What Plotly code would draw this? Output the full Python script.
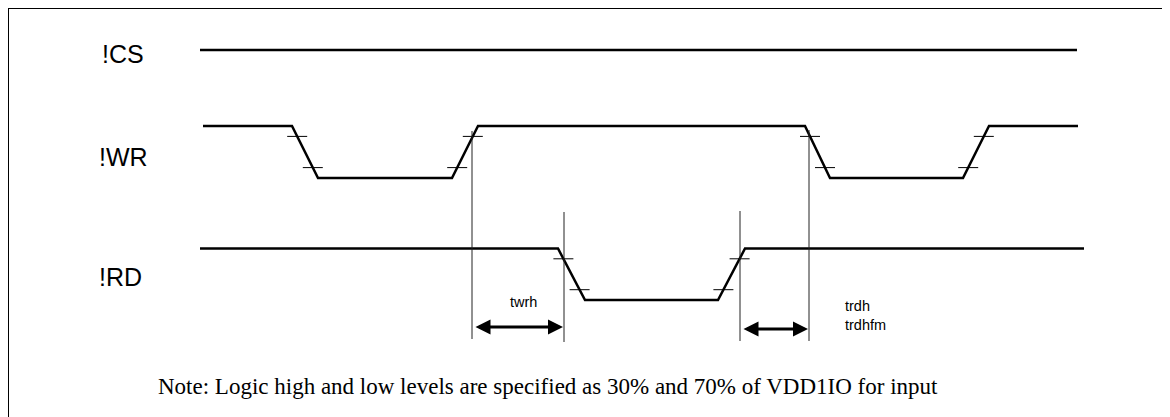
import plotly.graph_objects as go

# ---- data (pixel-scale timing diagram) ----
signal_names = ["!CS", "!WR", "!RD"]
label_x = [100, 97, 97]
label_y = [54, 157, 277]

high_y = [50, 126, 248.5]
low_y = [50, 178, 300]

cs_t = [200, 1077]
cs_lvl = [1, 1]
wr_t = [203, 292, 318, 452, 478, 805, 830, 963, 989, 1078]
wr_lvl = [1, 1, 0, 0, 1, 1, 0, 0, 1, 1]
rd_t = [200, 558, 585, 718, 745, 1084]
rd_lvl = [1, 1, 0, 0, 1, 1]

marker_t = [472, 564, 740, 809]
marker_top = [131, 212, 211, 130]
marker_bot = [339, 342, 341, 341]

arrow_labels = ["twrh", "trdh<br>trdhfm"]
arrow_from = [472, 740]
arrow_to = [564, 809]
arrow_y = [327, 329]
arrow_label_x = [523, 843]
arrow_label_y = [302, 315]

note = "Note: Logic high and low levels are specified as 30% and 70% of VDD1IO for input"

OFF = 8  # page body margin
W, H = 1170 - OFF, 417 - OFF
fig = go.Figure()

def lvl_to_y(i, l):
    return low_y[i] + (high_y[i] - low_y[i]) * l

signals = [(cs_t, cs_lvl), (wr_t, wr_lvl), (rd_t, rd_lvl)]
for i, (ts, ls) in enumerate(signals):
    ys = [lvl_to_y(i, l) for l in ls]
    fig.add_trace(go.Scatter(x=ts, y=ys, mode="lines",
                             line=dict(color="black", width=2.5),
                             hoverinfo="skip", showlegend=False))
    tx, ty = [], []
    for k in range(len(ts) - 1):
        if ls[k] != ls[k + 1]:
            for f in (0.2, 0.8):
                l = ls[k] + (ls[k + 1] - ls[k]) * f
                xm = ts[k] + (ts[k + 1] - ts[k]) * f
                ym = lvl_to_y(i, l)
                tx += [xm - 10, xm + 10, None]
                ty += [ym, ym, None]
    if tx:
        fig.add_trace(go.Scatter(x=tx, y=ty, mode="lines",
                                 line=dict(color="black", width=1),
                                 hoverinfo="skip", showlegend=False))

vx, vy = [], []
for t, a, b in zip(marker_t, marker_top, marker_bot):
    vx += [t, t, None]
    vy += [a, b, None]
fig.add_trace(go.Scatter(x=vx, y=vy, mode="lines",
                         line=dict(color="#222", width=1),
                         hoverinfo="skip", showlegend=False))

for name, x, y in zip(signal_names, label_x, label_y):
    fig.add_annotation(x=x, y=y, text=name, showarrow=False, xanchor="left",
                       yanchor="middle",
                       font=dict(family="Liberation Sans, Arial", size=25, color="black"))

for a, b, y in zip(arrow_from, arrow_to, arrow_y):
    fig.add_annotation(x=b - 1, y=y, ax=a + 2, ay=y, xref="x", yref="y",
                       axref="x", ayref="y", text="", showarrow=True,
                       arrowhead=2, arrowside="end+start", arrowsize=1,
                       arrowwidth=3, arrowcolor="black", standoff=0, startstandoff=0)

for txt, x, y in zip(arrow_labels, arrow_label_x, arrow_label_y):
    fig.add_annotation(x=x, y=y, text=txt, showarrow=False,
                       xanchor="center" if "<br>" not in txt else "left",
                       yanchor="middle", align="left",
                       font=dict(family="Liberation Sans, Arial", size=14.5, color="black"))

fig.add_annotation(x=548, y=386, text=note, showarrow=False, xanchor="center",
                   yanchor="middle",
                   font=dict(family="Liberation Serif, Times New Roman", size=23, color="black"))

fig.add_shape(type="rect", x0=8, y0=8, x1=1250, y1=480, xref="x", yref="y",
              line=dict(color="black", width=2), fillcolor="rgba(0,0,0,0)")

fig.update_layout(width=W, height=H, margin=dict(l=0, r=0, t=0, b=0),
                  plot_bgcolor="white", paper_bgcolor="white", showlegend=False)
fig.update_xaxes(range=[OFF, W + OFF], visible=False, fixedrange=True)
fig.update_yaxes(range=[H + OFF, OFF], visible=False, fixedrange=True)

fig.write_html("out.html")
